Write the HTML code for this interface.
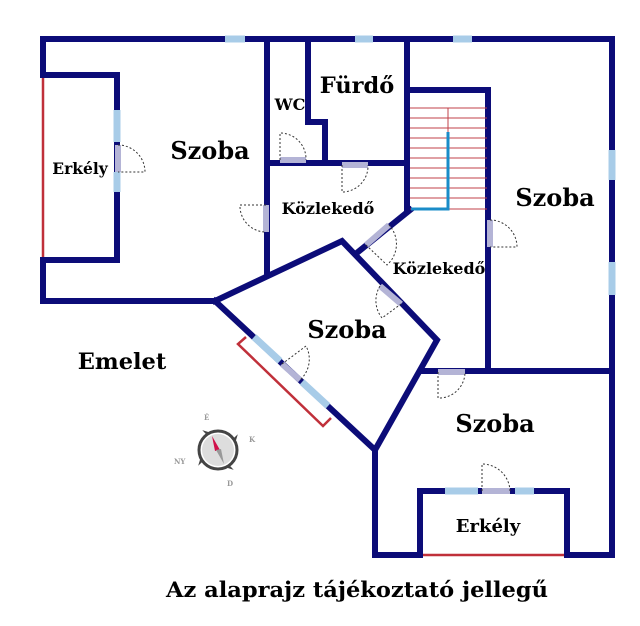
<!DOCTYPE html>
<html><head><meta charset="utf-8"><style>
html,body{margin:0;padding:0;background:#fff}
svg{display:block}
text{font-family:"DejaVu Serif","Liberation Serif",serif;font-weight:bold}
</style></head><body>
<svg width="640" height="626" viewBox="0 0 640 626" xmlns="http://www.w3.org/2000/svg">
<g stroke="#0c0c78" stroke-width="6" fill="none" stroke-linecap="square" stroke-linejoin="miter">
<polyline points="43,75 43,39 612,39 612,555 567,555"/>
<polyline points="43,260 43,301 215,301"/>
<polyline points="43,75 117,75 117,260 43,260"/>
<line x1="267" y1="39" x2="267" y2="275"/>
<polyline points="215,301 342,241 437,340 375,450 215,301"/>
<line x1="358" y1="252" x2="410" y2="210"/>
<line x1="407" y1="39" x2="407" y2="210"/>
<polyline points="407,90 488,90 488,370"/>
<line x1="422" y1="371" x2="612" y2="371"/>
<polyline points="308,39 308,122 325,122 325,163"/>
<line x1="267" y1="163" x2="407" y2="163"/>
<polyline points="375,450 375,555 420,555"/>
<polyline points="420,555 420,491 567,491 567,555"/>
</g>
<line x1="43" y1="78" x2="43" y2="257" stroke="#c0303a" stroke-width="2.5"/>
<line x1="423" y1="555" x2="564" y2="555" stroke="#c0303a" stroke-width="2.5"/>
<polyline points="246,337 238,344 323,426 331,418" stroke="#c0303a" stroke-width="2.5" fill="none"/>
<g stroke="#a8cce8" stroke-width="7">
<line x1="225" y1="39" x2="245" y2="39"/>
<line x1="355" y1="39" x2="373" y2="39"/>
<line x1="453" y1="39" x2="472" y2="39"/>
<line x1="612" y1="150" x2="612" y2="180"/>
<line x1="612" y1="262" x2="612" y2="295"/>
<line x1="117" y1="110" x2="117" y2="142"/>
<line x1="117" y1="172" x2="117" y2="192"/>
<line x1="445" y1="491" x2="478" y2="491"/>
<line x1="515" y1="491" x2="534" y2="491"/>
<line x1="254" y1="337" x2="280" y2="361"/>
<line x1="302" y1="382" x2="328" y2="406"/>
</g>
<g stroke="#b4b4d6" stroke-width="6">
<line x1="118" y1="145" x2="118" y2="172"/>
<line x1="266" y1="205" x2="266" y2="232"/>
<line x1="280" y1="160" x2="306" y2="160"/>
<line x1="342" y1="165" x2="368" y2="165"/>
<line x1="490" y1="220" x2="490" y2="247"/>
<line x1="366" y1="245" x2="389" y2="225"/>
<line x1="380" y1="286" x2="401" y2="304"/>
<line x1="438" y1="372" x2="465" y2="372"/>
<line x1="482" y1="491" x2="510" y2="491"/>
<line x1="282" y1="364" x2="300" y2="380"/>
</g>
<g stroke="#333" stroke-width="1" stroke-dasharray="2,2" fill="none">
<path d="M118,145 A27,27 0 0 1 145,172 L118,172"/>
<path d="M266,205 L240,205 A26,26 0 0 0 266,232"/>
<path d="M280,160 L280,133 A26,26 0 0 1 306,160"/>
<path d="M342,165 L342,192 A26,26 0 0 0 368,165"/>
<path d="M490,220 A27,27 0 0 1 517,247 L490,247"/>
<path d="M366,245 L387,265 A28,28 0 0 0 389,225"/>
<path d="M380,286 A28,28 0 0 0 382,318 L401,304"/>
<path d="M438,372 L438,398 A26,26 0 0 0 465,372"/>
<path d="M482,491 L482,464 A28,28 0 0 1 510,491"/>
<path d="M282,364 L306,346 A28,28 0 0 1 300,380"/>
</g>
<g stroke="#c04048" stroke-width="1">
<line x1="410" y1="108" x2="487" y2="108"/><line x1="410" y1="118" x2="487" y2="118"/>
<line x1="410" y1="128" x2="487" y2="128"/><line x1="410" y1="138" x2="487" y2="138"/>
<line x1="410" y1="148" x2="487" y2="148"/><line x1="410" y1="158" x2="487" y2="158"/>
<line x1="410" y1="168" x2="487" y2="168"/><line x1="410" y1="178" x2="487" y2="178"/>
<line x1="410" y1="188" x2="487" y2="188"/><line x1="410" y1="198" x2="487" y2="198"/>
<line x1="410" y1="209" x2="487" y2="209"/>
<line x1="448" y1="108" x2="448" y2="132"/>
</g>
<polyline points="448,132 448,209 411,209" stroke="#1a8cc8" stroke-width="3" fill="none"/>
<g transform="translate(218,450)">
<g fill="#444"><path d="M-5,-17 L-8,-24 L0,-18Z" transform="rotate(-20)"/><path d="M-5,-17 L-8,-24 L0,-18Z" transform="rotate(70)"/><path d="M-5,-17 L-8,-24 L0,-18Z" transform="rotate(160)"/><path d="M-5,-17 L-8,-24 L0,-18Z" transform="rotate(250)"/></g>
<circle r="19" fill="#fff" stroke="#444" stroke-width="3"/>
<circle r="16" fill="#ddd"/>
<path d="M-6,-14 L2,0 L-3,1Z" fill="#d0104a"/>
<path d="M6,14 L-2,0 L3,-1Z" fill="#999"/>
<g style="font-family:'DejaVu Sans',sans-serif;font-size:7px;fill:#999;font-weight:bold">
<text x="-14" y="-30" style="fill:#999">É</text><text x="31" y="-8" style="fill:#999">K</text><text x="-44" y="14" style="fill:#999">NY</text><text x="9" y="36" style="fill:#999">D</text></g>
</g>
<g fill="#000">
<text x="210" y="159" font-size="24" text-anchor="middle">Szoba</text>
<text x="80" y="174" font-size="15.5" text-anchor="middle">Erkély</text>
<text x="290" y="110" font-size="16" text-anchor="middle">WC</text>
<text x="357" y="93" font-size="22.5" text-anchor="middle">Fürdő</text>
<text x="328" y="214" font-size="16" text-anchor="middle">Közlekedő</text>
<text x="439" y="274" font-size="16" text-anchor="middle">Közlekedő</text>
<text x="555" y="206" font-size="24" text-anchor="middle">Szoba</text>
<text x="347" y="338" font-size="24" text-anchor="middle">Szoba</text>
<text x="495" y="432" font-size="24" text-anchor="middle">Szoba</text>
<text x="488" y="532" font-size="18" text-anchor="middle">Erkély</text>
<text x="122" y="369" font-size="22.5" text-anchor="middle">Emelet</text>
<text x="166" y="597" font-size="21" textLength="382" lengthAdjust="spacingAndGlyphs">Az alaprajz tájékoztató jellegű</text>
</g>
</svg>
</body></html>
